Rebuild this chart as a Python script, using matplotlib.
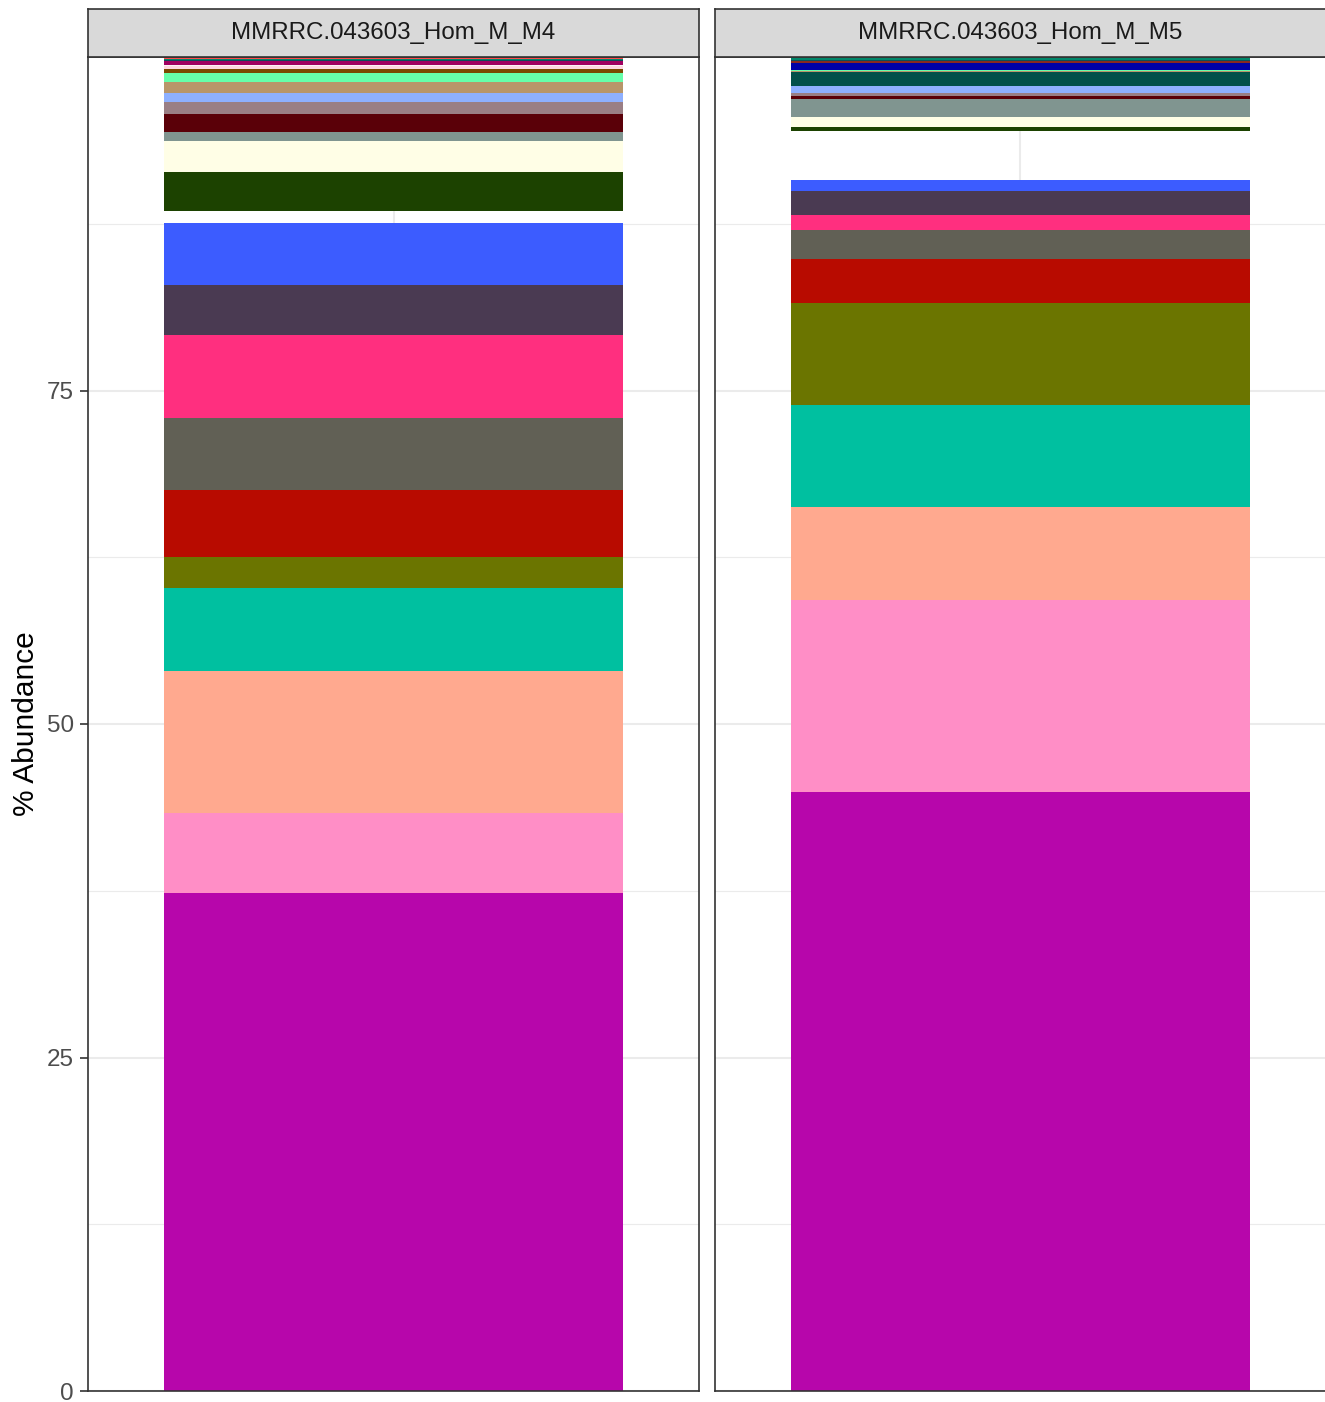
import numpy as np
import matplotlib
matplotlib.use("Agg")
import matplotlib.pyplot as plt

plt.rcParams['font.family'] = ['Liberation Sans', 'DejaVu Sans']

# Samples shown as facets
samples = ["MMRRC.043603_Hom_M_M4", "MMRRC.043603_Hom_M_M5"]

# Segment fill colours, bottom of the stack first (None = no fill / NA)
segColors = ["#b706ab", "#ff8ec6", "#ffa98f", "#00c0a0", "#6b7500",
             "#b80b00", "#616055", "#ff2f7f", "#4a3a52", "#3c5cff",
             None, "#1c4200", "#fffee6", "#809590", "#5a0008",
             "#9a7f85", "#8eb0ff", "#02504a", "#b8966a", "#66ffaa",
             "#7a4a00", "#ffd8e0", "#fbf3f6", "#0000a8", "#8a2a20",
             "#a00060", "#0b4f5a", "#00876a", "#ff4a4a"]

# % abundance per segment, same order as segColors
m4Values = [37.33, 6.00, 10.64, 6.22, 2.33,
            5.02, 5.40, 6.22, 3.75, 4.65,
            0.90, 2.92, 2.32, 0.68, 1.35,
            0.90, 0.67, 0.00, 0.83, 0.69,
            0.26, 0.27, 0.07, 0.00, 0.00,
            0.26, 0.10, 0.09, 0.13]
m5Values = [44.90, 14.40, 6.97, 7.64, 7.65,
            3.30, 2.17, 1.13, 1.80, 0.82,
            3.67, 0.30, 0.75, 1.35, 0.23,
            0.22, 0.53, 1.01, 0.11, 0.11,
            0.00, 0.00, 0.00, 0.49, 0.15,
            0.00, 0.11, 0.19, 0.00]

yTicks = [0, 25, 50, 75, 100]
yMinor = [12.5, 37.5, 62.5, 87.5]

W, H = 1325, 1402
fig = plt.figure(figsize=(W / 100, H / 100), dpi=100)

panelLeft = [88, 715]
panelWidth = 611
panelBottom = H - 1391
panelTop = H - 57
stripTop = H - 9

borderCol = "#333333"
gridCol = "#ebebeb"


def drawPanel(left, values, label, showY):
    ax = fig.add_axes([left / W, panelBottom / H, panelWidth / W,
                       (panelTop - panelBottom) / H])
    ax.set_xlim(0.4, 1.6)
    ax.set_ylim(0, 100)

    # grid lines (theme_bw look)
    for y in yMinor:
        ax.axhline(y, color=gridCol, lw=0.8, zorder=0)
    for y in yTicks:
        ax.axhline(y, color=gridCol, lw=1.5, zorder=0)
    ax.axvline(1, color=gridCol, lw=1.5, zorder=0)

    # stacked segments
    bottom = 0.0
    for v, c in zip(values, segColors):
        if v > 0 and c is not None:
            ax.bar([1], [v], bottom=bottom, width=0.903, color=c,
                   linewidth=0, zorder=2)
        bottom += v

    for s in ax.spines.values():
        s.set_color(borderCol)
        s.set_linewidth(1.2)
        s.set_zorder(5)

    ax.set_xticks([])
    ax.set_yticks(yTicks[:-1])
    if showY:
        ax.set_yticklabels([str(t) for t in yTicks[:-1]])
        ax.tick_params(axis='y', length=6, width=1.2, color=borderCol,
                       labelsize=17.5, labelcolor="#4d4d4d", pad=4)
        ax.set_ylabel("% Abundance", fontsize=21.5, color="black", labelpad=5)
    else:
        ax.tick_params(axis='y', length=0, labelleft=False)

    # facet strip
    sx = fig.add_axes([left / W, panelTop / H, panelWidth / W,
                       (stripTop - panelTop) / H])
    sx.set_facecolor("#d9d9d9")
    sx.set_xticks([])
    sx.set_yticks([])
    for s in sx.spines.values():
        s.set_color(borderCol)
        s.set_linewidth(1.2)
    sx.text(0.5, 0.5, label, ha='center', va='center', fontsize=17.4,
            color="#1a1a1a", transform=sx.transAxes)
    return ax


drawPanel(panelLeft[0], m4Values, samples[0], True)
drawPanel(panelLeft[1], m5Values, samples[1], False)

fig.savefig("out.png", dpi=100, facecolor="white")
